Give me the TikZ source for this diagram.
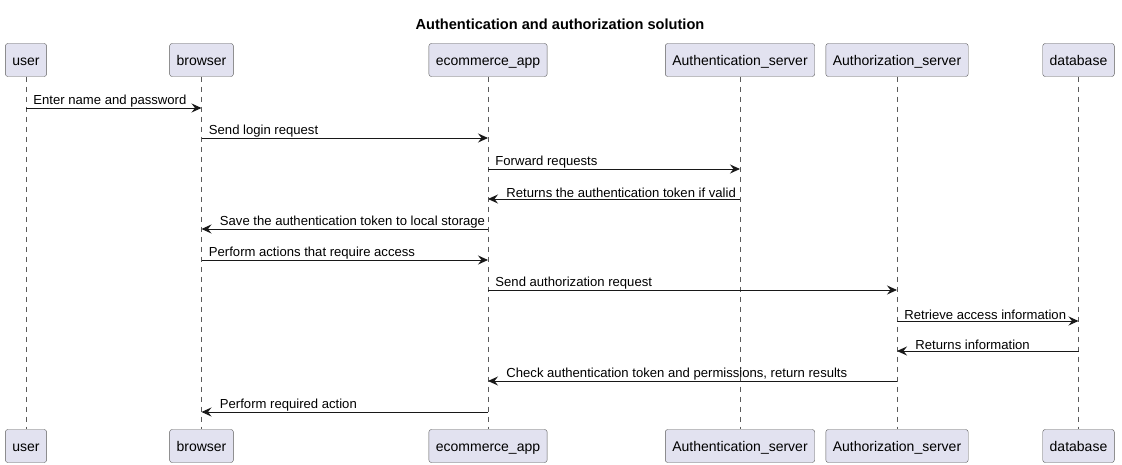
\documentclass[tikz,border=0pt]{standalone}
\usepackage{fontspec}
\setmainfont{Liberation Sans}
\usetikzlibrary{arrows.meta}
\definecolor{partfill}{HTML}{E2E2F0}
\definecolor{partline}{HTML}{5A5A5A}
\definecolor{ink}{HTML}{181818}
\tikzset{>={Stealth[length=10pt,width=9pt,inset=3.5pt]}}

\begin{document}
\begin{tikzpicture}[x=1pt, y=1pt,
    part/.style={draw=partline, fill=partfill, rounded corners=2.5pt,
        minimum height=33pt, inner xsep=7pt, text height=11.5pt, text depth=0.5pt,
        font=\fontsize{14}{16}\selectfont},
    life/.style={draw=partline, dash pattern=on 5pt off 5pt, line width=0.7pt},
    msg/.style={->, draw=ink, line width=0.9pt},
    lbl/.style={anchor=south west, inner sep=1pt, yshift=-0.5pt,
        font=\fontsize{13.1}{15}\selectfont}]
    \useasboundingbox (0,0) rectangle (1122,-465);
    \node[font=\bfseries\fontsize{14.6}{17}\selectfont] (title) at (560,-24)
        {Authentication and authorization solution};
    % participants, top and bottom, with their lifelines
    \foreach \name/\x/\txt in {user/26/user, browser/201.5/browser,
        ecom/488/ecommerce\_app, authn/740/Authentication\_server,
        authz/897/Authorization\_server, db/1078.5/database}{
        \node[part] (\name) at (\x,-60) {\txt};
        \node[part] (\name-b) at (\x,-446) {\txt};
        \draw[life] (\name) -- (\name-b);
    }
    % message rows
    \foreach \i/\y in {1/108, 2/138, 3/169, 4/199, 5/229, 6/260,
        7/290, 8/321, 9/351, 10/381, 11/412}{
        \coordinate (m\i) at (0,-\y);
    }
    \draw[msg] (user |- m1) -- (browser |- m1)
        node[lbl, pos=0, xshift=6pt] {Enter name and password};
    \draw[msg] (browser |- m2) -- (ecom |- m2)
        node[lbl, pos=0, xshift=6pt] {Send login request};
    \draw[msg] (ecom |- m3) -- (authn |- m3)
        node[lbl, pos=0, xshift=6pt] {Forward requests};
    \draw[msg] (authn |- m4) -- (ecom |- m4)
        node[lbl, pos=1, xshift=17pt] {Returns the authentication token if valid};
    \draw[msg] (ecom |- m5) -- (browser |- m5)
        node[lbl, pos=1, xshift=17pt] {Save the authentication token to local storage};
    \draw[msg] (browser |- m6) -- (ecom |- m6)
        node[lbl, pos=0, xshift=6pt] {Perform actions that require access};
    \draw[msg] (ecom |- m7) -- (authz |- m7)
        node[lbl, pos=0, xshift=6pt] {Send authorization request};
    \draw[msg] (authz |- m8) -- (db |- m8)
        node[lbl, pos=0, xshift=6pt] {Retrieve access information};
    \draw[msg] (db |- m9) -- (authz |- m9)
        node[lbl, pos=1, xshift=17pt] {Returns information};
    \draw[msg] (authz |- m10) -- (ecom |- m10)
        node[lbl, pos=1, xshift=17pt] {Check authentication token and permissions, return results};
    \draw[msg] (ecom |- m11) -- (browser |- m11)
        node[lbl, pos=1, xshift=17pt] {Perform required action};
\end{tikzpicture}
\end{document}
